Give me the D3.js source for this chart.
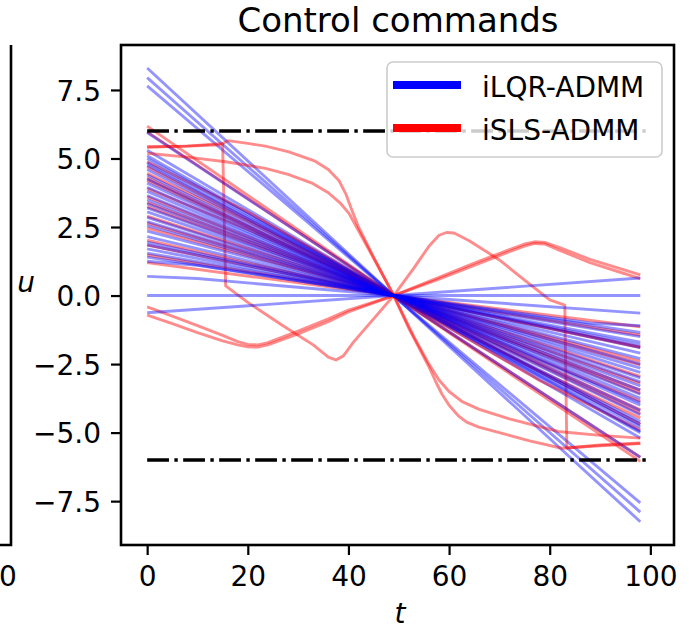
<!DOCTYPE html>
<html>
<head>
<meta charset="utf-8">
<script src="https://cdn.jsdelivr.net/npm/d3@7"></script>
<style>
  html, body { margin: 0; padding: 0; background: #fff; }
  svg { display: block; }
  text { font-family: "DejaVu Sans", sans-serif; fill: #000; }
</style>
</head>
<body>
<svg id="chart" width="689" height="629"></svg>
<script>
// ---------- data ----------
const titleText = "Control commands";
const xLabel = "t";
const yLabel = "u";
const seriesNames = ["iLQR-ADMM", "iSLS-ADMM"];
const seriesColors = ["#0000ff", "#ff0000"];
const xTicks = [0, 20, 40, 60, 80, 100];
const yTicks = [-7.5, -5.0, -2.5, 0.0, 2.5, 5.0, 7.5];
const leftPanelTickLabel = "0";
const limitValues = [6, -6];
const limitSpan = [0, 99.5];

// iLQR-ADMM trajectories: [t, u] vertices
const blueLines = [
  [[0, 8.30], [49, 0], [98, -8.25]],
  [[0, 7.95], [49, 0], [98, -7.90]],
  [[0, 7.65], [49, 0], [98, -7.56]],
  [[0, 5.95], [49, 0], [98, -5.90]],
  [[0, 5.30], [49, 0], [98, -5.20]],
  [[0, 5.10], [49, 0], [98, -5.00]],
  [[0, 5.00], [49, 0], [98, -4.95]],
  [[0, 4.85], [49, 0], [98, -4.80]],
  [[0, 4.75], [49, 0], [98, -4.70]],
  [[0, 4.60], [49, 0], [98, -4.60]],
  [[0, 4.40], [49, 0], [98, -4.35]],
  [[0, 4.25], [49, 0], [98, -4.20]],
  [[0, 4.10], [49, 0], [98, -4.00]],
  [[0, 3.95], [49, 0], [98, -3.90]],
  [[0, 3.80], [49, 0], [98, -3.75]],
  [[0, 3.65], [49, 0], [98, -3.60]],
  [[0, 3.50], [49, 0], [98, -3.45]],
  [[0, 3.35], [49, 0], [98, -3.30]],
  [[0, 3.20], [49, 0], [98, -3.15]],
  [[0, 3.05], [49, 0], [98, -3.00]],
  [[0, 2.85], [49, 0], [98, -2.80]],
  [[0, 2.70], [49, 0], [98, -2.65]],
  [[0, 2.55], [49, 0], [98, -2.50]],
  [[0, 2.35], [49, 0], [98, -2.30]],
  [[0, 2.15], [49, 0], [98, -2.10]],
  [[0, 1.95], [49, 0], [98, -1.90]],
  [[0, 1.85], [49, 0], [98, -1.80]],
  [[0, 1.70], [49, 0], [98, -1.70]],
  [[0, 1.55], [49, 0], [98, -1.50]],
  [[0, 1.40], [49, 0], [98, -1.35]],
  [[0, 1.25], [10, 1.10], [49, 0], [88, -1.00], [98, -1.10]],
  [[0, 0.70], [10, 0.62], [49, 0], [98, -0.64]],
  [[0, 0.00], [49, 0], [98, 0.00]],
  [[0, -0.63], [49, 0], [98, 0.64]]
];

// iSLS-ADMM trajectories: [t, u] vertices
const redLines = [
  [[0, 6.18], [49, 0], [98, -6.05]],
  [[0, 5.97], [49, 0], [98, -5.90]],
  [[0, 5.42], [8, 5.45], [15, 5.50], [15.6, 0.35], [20, -0.25], [27, -1.10], [33, -1.80], [36, -2.25], [37.5, -2.35], [39, -2.20], [41, -1.70], [45, -0.85], [49, 0],
   [53, 1.00], [56, 1.80], [58, 2.20], [59.5, 2.30], [61, 2.28], [64, 2.00], [70, 1.30], [75, 0.56], [80, -0.16], [83, -0.35], [83.4, -5.56], [90, -5.45], [98, -5.38]],
  [[0, 5.42], [8, 5.45], [15, 5.55], [16, 5.65], [20, 5.55], [23.5, 5.45], [28, 5.25], [33.4, 4.90], [36, 4.60], [38.1, 4.20], [39.5, 3.70], [40.5, 3.20], [42, 2.50], [45, 1.40], [49, 0],
   [52, -1.20], [54, -1.90], [56, -2.60], [57.5, -3.20], [58.6, -3.60], [60, -4.00], [61.9, -4.40], [63.5, -4.62], [65.9, -4.80], [70, -5.00], [76, -5.30], [82.4, -5.57], [90, -5.48], [98, -5.40]],
  [[0, 5.19], [8, 5.05], [15.6, 4.88], [23.5, 4.64], [28, 4.42], [32.9, 4.09], [36, 3.75], [38.5, 3.35], [40.1, 3.00], [44, 1.70], [49, 0],
   [53, -1.50], [56, -2.50], [58, -3.08], [60, -3.50], [62.6, -3.87], [66, -4.15], [72, -4.50], [81.7, -4.96], [90, -5.10], [98, -5.20]],
  [[0, 4.88], [20, 3.05], [49, 0], [78, -3.10], [98, -4.90]],
  [[0, 4.70], [49, 0], [98, -4.70]],
  [[0, 4.46], [20, 2.70], [49, 0], [78, -2.75], [98, -4.47]],
  [[0, 4.30], [49, 0], [98, -4.30]],
  [[0, 4.20], [49, 0], [98, -4.17]],
  [[0, 3.90], [20, 2.40], [49, 0], [78, -2.35], [98, -3.85]],
  [[0, 3.60], [49, 0], [98, -3.56]],
  [[0, 3.40], [49, 0], [98, -3.45]],
  [[0, 3.24], [49, 0], [98, -3.20]],
  [[0, 2.90], [49, 0], [98, -2.95]],
  [[0, 2.64], [49, 0], [98, -2.53]],
  [[0, 2.46], [49, 0], [98, -2.40]],
  [[0, 2.02], [49, 0], [98, -1.87]],
  [[0, 1.84], [49, 0], [98, -1.90]],
  [[0, 1.48], [49, 0], [98, -1.44]],
  [[0, 1.20], [49, 0], [98, -1.14]],
  [[0, -0.41], [5, -0.75], [10, -1.10], [15, -1.45], [18, -1.68], [20, -1.78], [22, -1.80], [24, -1.72], [30, -1.30], [36, -0.85], [40, -0.53], [49, 0],
   [58, 0.60], [65, 1.10], [72, 1.60], [75, 1.80], [77, 1.90], [79, 1.88], [82, 1.65], [88, 1.20], [94, 0.85], [98, 0.62]],
  [[0, -0.71], [5, -1.02], [10, -1.35], [15, -1.65], [18, -1.80], [20, -1.87], [22, -1.88], [24, -1.80], [30, -1.40], [36, -0.95], [40, -0.60], [49, 0],
   [58, 0.66], [65, 1.18], [72, 1.68], [75, 1.88], [77, 1.96], [79, 1.94], [82, 1.75], [88, 1.32], [94, 0.98], [98, 0.75]]
];

// ---------- layout ----------
const svg = d3.select("#chart");
const W = 689, H = 629;
const plot = { left: 121, right: 674, top: 45, bottom: 545 };

svg.append("rect").attr("width", W).attr("height", H).attr("fill", "#fff");

const x = d3.scaleLinear().domain([-5.2, 104.7]).range([plot.left, plot.right]);
const y = d3.scaleLinear().domain([-9.1, 9.14]).range([plot.bottom, plot.top]);

svg.append("defs").append("clipPath").attr("id", "clip")
  .append("rect")
  .attr("x", plot.left).attr("y", plot.top)
  .attr("width", plot.right - plot.left).attr("height", plot.bottom - plot.top);

const line = d3.line().x(d => x(d[0])).y(d => y(d[1]));

const g = svg.append("g").attr("clip-path", "url(#clip)");

// interleave blue / red as if plotted per sample
const n = Math.max(blueLines.length, redLines.length);
for (let i = 0; i < n; i++) {
  if (i < blueLines.length) {
    g.append("path").datum(blueLines[i]).attr("d", line)
      .attr("fill", "none").attr("stroke", seriesColors[0])
      .attr("stroke-opacity", 0.42).attr("stroke-width", 2.9)
      .attr("stroke-linejoin", "round");
  }
  if (i < redLines.length) {
    g.append("path").datum(redLines[i]).attr("d", line)
      .attr("fill", "none").attr("stroke", seriesColors[1])
      .attr("stroke-opacity", 0.45).attr("stroke-width", 2.9)
      .attr("stroke-linejoin", "round");
  }
}

// limit lines (dash-dot)
limitValues.forEach(v => {
  g.append("line")
    .attr("x1", x(limitSpan[0])).attr("x2", x(limitSpan[1]))
    .attr("y1", y(v)).attr("y2", y(v))
    .attr("stroke", "#000").attr("stroke-width", 3.4)
    .attr("stroke-dasharray", "21.8,5.4,3.4,5.4");
});

// ---------- axes ----------
const fmt = v => d3.format(".1f")(v).replace("-", "\u2212");

const xAxis = d3.axisBottom(x).tickValues(xTicks).tickSize(10).tickPadding(10).tickFormat(d3.format("d"));
const yAxis = d3.axisLeft(y).tickValues(yTicks).tickSize(10).tickPadding(10).tickFormat(fmt);

const gx = svg.append("g").attr("transform", `translate(0,${plot.bottom})`).call(xAxis);
const gy = svg.append("g").attr("transform", `translate(${plot.left},0)`).call(yAxis);
[gx, gy].forEach(a => {
  a.select(".domain").remove();
  a.selectAll(".tick line").attr("stroke", "#000").attr("stroke-width", 2.2);
  a.selectAll(".tick text").attr("font-family", "DejaVu Sans").attr("font-size", 28).attr("fill", "#000");
});
gx.selectAll(".tick text").attr("dy", null).attr("y", 40.5);
gy.selectAll(".tick text").attr("dy", null).attr("y", 10.2);

// frame
svg.append("rect")
  .attr("x", plot.left).attr("y", plot.top)
  .attr("width", plot.right - plot.left).attr("height", plot.bottom - plot.top)
  .attr("fill", "none").attr("stroke", "#000").attr("stroke-width", 2.6);

// partial neighbouring subplot on the left
svg.append("path")
  .attr("d", `M0,${plot.bottom} L11,${plot.bottom} L11,${plot.top}`)
  .attr("fill", "none").attr("stroke", "#000").attr("stroke-width", 2.6);
svg.append("text").attr("x", 8).attr("y", 585.5)
  .attr("text-anchor", "middle").attr("font-size", 28).text(leftPanelTickLabel);

// title and labels
svg.append("text").attr("x", 398).attr("y", 32)
  .attr("text-anchor", "middle").attr("font-size", 34).text(titleText);
svg.append("text").attr("x", 400).attr("y", 623)
  .attr("text-anchor", "middle").attr("font-size", 28).attr("font-style", "italic").text(xLabel);
svg.append("text").attr("x", 26).attr("y", 292)
  .attr("text-anchor", "middle").attr("font-size", 28).attr("font-style", "italic").text(yLabel);

// ---------- legend ----------
const leg = svg.append("g");
leg.append("rect")
  .attr("x", 387).attr("y", 62).attr("width", 275).attr("height", 95)
  .attr("rx", 6).attr("ry", 6)
  .attr("fill", "#fff").attr("fill-opacity", 0.8)
  .attr("stroke", "#cccccc").attr("stroke-width", 1.6);
const legRows = [85, 128];
seriesNames.forEach((name, i) => {
  leg.append("line")
    .attr("x1", 393).attr("x2", 461)
    .attr("y1", legRows[i]).attr("y2", legRows[i])
    .attr("stroke", seriesColors[i]).attr("stroke-width", 8);
  leg.append("text")
    .attr("x", 482).attr("y", legRows[i] + 11.5)
    .attr("font-size", 28).text(name);
});
</script>
</body>
</html>
